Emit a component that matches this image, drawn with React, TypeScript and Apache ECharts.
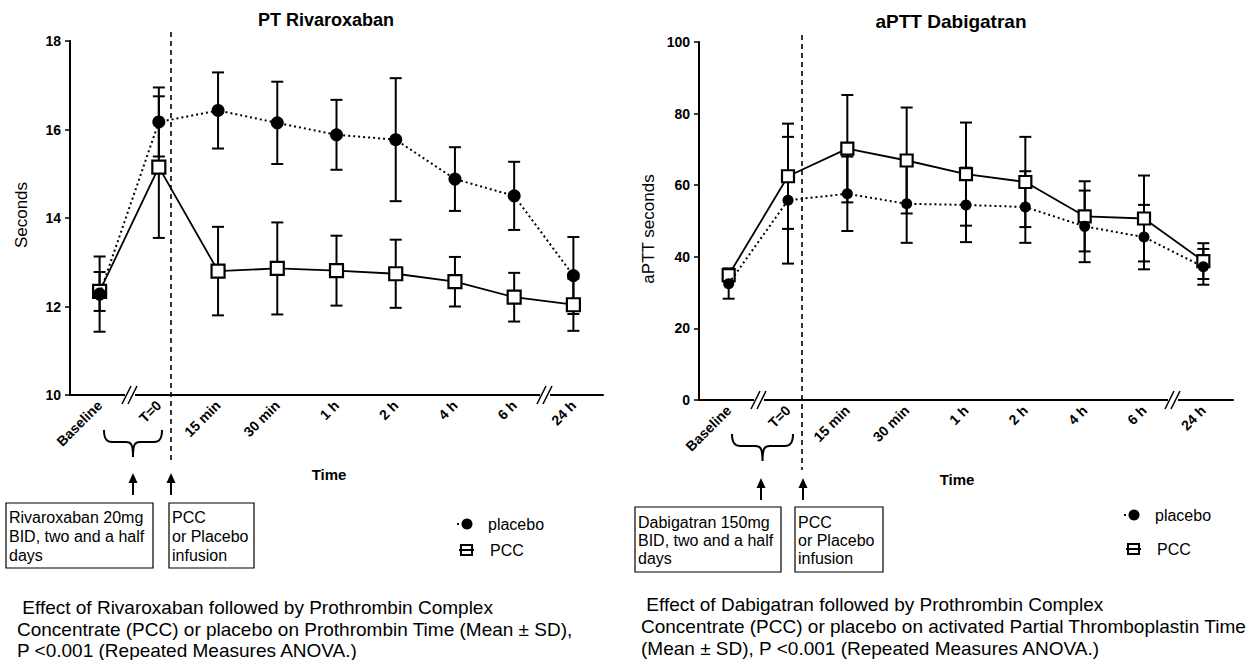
import React, { useEffect, useRef } from "react";
import * as echarts from "echarts";

const categories = ["Baseline", "T=0", "15 min", "30 min", "1 h", "2 h", "4 h", "6 h", "24 h"];

const ptPlaceboMean = [12.28, 16.17, 16.43, 16.15, 15.88, 15.77, 14.88, 14.5, 12.7];
const ptPlaceboSd = [0.85, 0.78, 0.86, 0.93, 0.79, 1.39, 0.72, 0.77, 0.87];
const ptPccMean = [12.34, 15.15, 12.8, 12.86, 12.81, 12.74, 12.56, 12.21, 12.04];
const ptPccSd = [0.44, 1.6, 1.0, 1.04, 0.79, 0.77, 0.56, 0.55, 0.59];

const apttPlaceboMean = [32.5, 55.8, 57.6, 54.8, 54.5, 53.9, 48.5, 45.5, 37.2];
const apttPlaceboSd = [4.2, 17.7, 10.4, 10.9, 10.4, 10.0, 10.0, 9.0, 5.0];
const apttPccMean = [34.9, 62.5, 70.2, 66.9, 63.1, 60.9, 51.3, 50.7, 38.8];
const apttPccSd = [1.8, 14.7, 15.0, 14.8, 14.4, 12.6, 9.8, 12.0, 5.0];

const ptTicks = { min: 10, max: 18, interval: 2 };
const apttTicks = { min: 0, max: 100, interval: 20 };

const FONT = "Arial, 'Liberation Sans', sans-serif";

echarts.graphic.registerShape(
  "brace",
  echarts.graphic.extendPath(
    "M0,0 C0,8 2,12 8,12 L22,12 C27,12 29,14 29,27 C29,14 31,12 36,12 L50,12 C56,12 58,8 58,0",
    {}
  )
);

function errData(mean: number[], sd: number[]) {
  return mean.map((m, i) => [i, m - sd[i], m + sd[i]]);
}

function errSeries(mean: number[], sd: number[], idx: number) {
  return {
    type: "custom",
    xAxisIndex: idx,
    yAxisIndex: idx,
    z: 1,
    data: errData(mean, sd),
    encode: { x: 0, y: [1, 2] },
    renderItem: (params: any, api: any) => {
      const x = api.value(0);
      const lo = api.coord([x, api.value(1)]);
      const hi = api.coord([x, api.value(2)]);
      const w = 6;
      const st = { stroke: "#000", lineWidth: 2 };
      return {
        type: "group",
        children: [
          { type: "line", shape: { x1: lo[0], y1: lo[1], x2: hi[0], y2: hi[1] }, style: st },
          { type: "line", shape: { x1: lo[0] - w, y1: lo[1], x2: lo[0] + w, y2: lo[1] }, style: st },
          { type: "line", shape: { x1: hi[0] - w, y1: hi[1], x2: hi[0] + w, y2: hi[1] }, style: st },
        ],
      };
    },
  };
}

function xAxisCfg(idx: number) {
  return {
    type: "category",
    gridIndex: idx,
    data: categories,
    boundaryGap: true,
    axisLine: { lineStyle: { color: "#000", width: 2 } },
    axisTick: { alignWithLabel: true, length: 5, lineStyle: { color: "#000", width: 1.5 } },
    axisLabel: { rotate: 45, color: "#000", fontWeight: "bold", fontSize: 14, fontFamily: FONT, margin: 8 },
    splitLine: { show: false },
  };
}

function yAxisCfg(idx: number, t: { min: number; max: number; interval: number }) {
  return {
    type: "value",
    gridIndex: idx,
    min: t.min,
    max: t.max,
    interval: t.interval,
    axisLine: { show: true, lineStyle: { color: "#000", width: 2 } },
    axisTick: { show: true, length: 5, lineStyle: { color: "#000", width: 1.5 } },
    axisLabel: { color: "#000", fontWeight: "bold", fontSize: 14, fontFamily: FONT, margin: 9 },
    splitLine: { show: false },
  };
}

function lineSeries(name: string, mean: number[], idx: number, placebo: boolean, size: number) {
  return {
    name,
    type: "line",
    xAxisIndex: idx,
    yAxisIndex: idx,
    z: placebo ? 4 : 3,
    data: mean,
    symbol: placebo ? "circle" : "rect",
    symbolSize: size,
    showSymbol: true,
    lineStyle: placebo
      ? { color: "#000", width: 2, type: [2, 3] }
      : { color: "#000", width: 1.8, type: "solid" },
    itemStyle: placebo
      ? { color: "#000", borderColor: "#000", borderWidth: 0 }
      : { color: "#fff", borderColor: "#000", borderWidth: 2.2 },
  };
}

function breakMark(cx: number, cy: number) {
  const st = { stroke: "#000", lineWidth: 1.5 };
  return [
    { type: "rect", shape: { x: cx - 5, y: cy - 3, width: 10, height: 6 }, style: { fill: "#fff" }, z: 50 },
    { type: "line", shape: { x1: cx - 8, y1: cy + 9, x2: cx + 1, y2: cy - 9 }, style: st, z: 51 },
    { type: "line", shape: { x1: cx - 2, y1: cy + 9, x2: cx + 7, y2: cy - 9 }, style: st, z: 51 },
  ];
}

function arrow(x: number, yTip: number, yEnd: number) {
  return [
    { type: "line", shape: { x1: x, y1: yTip + 6, x2: x, y2: yEnd }, style: { stroke: "#000", lineWidth: 2 }, z: 50 },
    {
      type: "polygon",
      shape: { points: [[x, yTip], [x - 4.5, yTip + 10], [x + 4.5, yTip + 10]] },
      style: { fill: "#000" },
      z: 50,
    },
  ];
}

function txt(text: string, x: number, y: number, size: number, opts: any = {}) {
  return {
    type: "text",
    x,
    y,
    z: 60,
    rotation: opts.rotation || 0,
    style: {
      text,
      fontSize: size,
      fontWeight: opts.bold ? "bold" : "normal",
      fontFamily: FONT,
      fill: "#000",
      align: opts.align || "left",
      verticalAlign: opts.va || "middle",
      lineHeight: opts.lineHeight,
    },
  };
}

function legend(x: number, y1: number, y2: number) {
  return [
    { type: "line", shape: { x1: x - 9, y1, x2: x - 5, y2: y1 }, style: { stroke: "#000", lineWidth: 2, lineDash: [2, 2] }, z: 50 },
    { type: "circle", shape: { cx: x + 1, cy: y1, r: 5.5 }, style: { fill: "#000" }, z: 50 },
    txt("placebo", x + 22, y1, 16),
    { type: "rect", shape: { x: x - 5, y: y2 - 5, width: 11, height: 10 }, style: { fill: "#fff", stroke: "#000", lineWidth: 2 }, z: 50 },
    { type: "line", shape: { x1: x - 7, y1: y2, x2: x + 8, y2 }, style: { stroke: "#000", lineWidth: 2 }, z: 51 },
    txt("PCC", x + 24, y2, 16),
  ];
}

function box(x: number, y: number, w: number, h: number, text: string, firstLine: number, lh: number) {
  return [
    { type: "rect", shape: { x, y, width: w, height: h }, style: { fill: "#fff", stroke: "#000", lineWidth: 1.2 }, z: 50 },
    txt(text, x + 3, firstLine - lh / 2, 16, { lineHeight: lh, va: "top" }),
  ];
}

export default function App() {
  const ref = useRef<HTMLDivElement>(null);
  useEffect(() => {
    if (!ref.current) return;
    const chart = echarts.init(ref.current, undefined, { renderer: "svg" });
    const dash = { stroke: "#000", lineWidth: 1.6, lineDash: [5, 4] };
    const graphic: any[] = [
      txt("PT Rivaroxaban", 326, 20, 18, { bold: true, align: "center" }),
      txt("aPTT Dabigatran", 951, 21, 19, { bold: true, align: "center" }),
      txt("Seconds", 21, 215, 17, { align: "center", rotation: Math.PI / 2 }),
      txt("aPTT seconds", 648, 229, 17, { align: "center", rotation: Math.PI / 2 }),
      txt("Time", 329, 474, 15, { bold: true, align: "center" }),
      txt("Time", 957, 479, 15, { bold: true, align: "center" }),
      { type: "line", shape: { x1: 171, y1: 32, x2: 171, y2: 463 }, style: dash, z: 40 },
      { type: "line", shape: { x1: 802, y1: 35, x2: 802, y2: 470 }, style: dash, z: 40 },
      ...breakMark(130, 395),
      ...breakMark(545, 395),
      ...breakMark(759, 400),
      ...breakMark(1173, 400),
      { type: "brace", x: 104, y: 430, style: { stroke: "#000", fill: "none", lineWidth: 2 }, z: 50 },
      { type: "brace", x: 732, y: 434, scaleX: 61 / 58, style: { stroke: "#000", fill: "none", lineWidth: 2 }, z: 50 },
      ...arrow(133, 473, 495),
      ...arrow(171, 473, 495),
      ...arrow(761, 478, 500),
      ...arrow(803, 478, 500),
      ...box(6, 503, 147, 65, "Rivaroxaban 20mg\nBID, two and a half\ndays", 517, 19),
      ...box(169, 503, 85, 65, "PCC\nor Placebo\ninfusion", 517, 19),
      ...box(635, 507, 146, 65, "Dabigatran 150mg\nBID, two and a half\ndays", 522, 18),
      ...box(795, 507, 88, 65, "PCC\nor Placebo\ninfusion", 522, 18),
      ...legend(466, 524, 550),
      ...legend(1133, 515, 549),
      txt(
        " Effect of Rivaroxaban followed by Prothrombin Complex\nConcentrate (PCC) or placebo on Prothrombin Time (Mean ± SD),\nP <0.001 (Repeated Measures ANOVA.)",
        17,
        597,
        19,
        { lineHeight: 21.5, va: "top" }
      ),
      txt(
        " Effect of Dabigatran followed by Prothrombin Complex\nConcentrate (PCC) or placebo on activated Partial Thromboplastin Time\n(Mean ± SD), P <0.001 (Repeated Measures ANOVA.)",
        641,
        593,
        19,
        { lineHeight: 22, va: "top" }
      ),
    ];
    chart.setOption({
      animation: false,
      backgroundColor: "#fff",
      grid: [
        { left: 70, top: 41, width: 533, height: 354 },
        { left: 699, top: 42, width: 534, height: 358 },
      ],
      xAxis: [xAxisCfg(0), xAxisCfg(1)],
      yAxis: [yAxisCfg(0, ptTicks), yAxisCfg(1, apttTicks)],
      series: [
        errSeries(ptPlaceboMean, ptPlaceboSd, 0),
        errSeries(ptPccMean, ptPccSd, 0),
        lineSeries("PCC", ptPccMean, 0, false, 13),
        lineSeries("placebo", ptPlaceboMean, 0, true, 13),
        errSeries(apttPlaceboMean, apttPlaceboSd, 1),
        errSeries(apttPccMean, apttPccSd, 1),
        lineSeries("PCC", apttPccMean, 1, false, 12),
        lineSeries("placebo", apttPlaceboMean, 1, true, 11),
      ],
      graphic,
    });
    return () => chart.dispose();
  }, []);
  return (
    <div
      ref={ref}
      style={{ position: "absolute", left: 0, top: 0, width: 1247, height: 660, background: "#fff" }}
    />
  );
}
